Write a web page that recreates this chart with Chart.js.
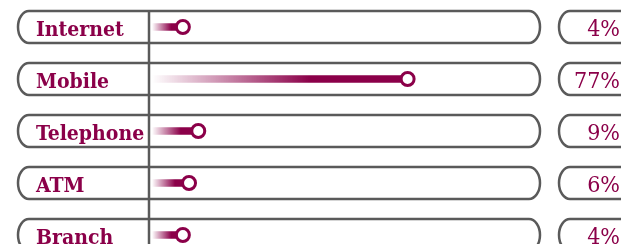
<!DOCTYPE html>
<html>
<head>
<meta charset="utf-8">
<script src="https://cdn.jsdelivr.net/npm/chart.js@4.4.1/dist/chart.umd.min.js"></script>
<style>
  html, body { margin: 0; padding: 0; background: #fff; overflow: hidden; }
  #wrap { width: 621px; height: 244px; overflow: hidden; }
</style>
</head>
<body>
<div id="wrap"><canvas id="channelChart" width="621" height="261"></canvas></div>
<script>
// data
const channels = ["Internet", "Mobile", "Telephone", "ATM", "Branch"];
const shares = [4, 77, 9, 6, 4];
const shareLabels = ["4%", "77%", "9%", "6%", "4%"];

const maroon = "#8b0049";
const grey = "#5a5a5a";
const labelFont = "bold 21px 'DejaVu Serif Condensed', 'DejaVu Serif', serif";
const valueFont = "23px 'DejaVu Serif Condensed', 'DejaVu Serif', serif";

// rounded box with parenthesis-like ends
function pill(ctx, x0, x1, cy, rx, ry) {
    ctx.beginPath();
    ctx.moveTo(x0 + rx, cy - ry);
    ctx.lineTo(x1 - rx, cy - ry);
    ctx.ellipse(x1 - rx, cy, rx, ry, 0, -Math.PI / 2, Math.PI / 2);
    ctx.lineTo(x0 + rx, cy + ry);
    ctx.ellipse(x0 + rx, cy, rx, ry, 0, Math.PI / 2, Math.PI * 1.5);
    ctx.closePath();
    ctx.stroke();
}

const framePlugin = {
    id: "frame",
    beforeDatasetsDraw(chart) {
        const ctx = chart.ctx;
        const y = chart.scales.y;
        const left = chart.chartArea.left;
        ctx.save();
        ctx.strokeStyle = grey;
        ctx.lineWidth = 2.5;
        channels.forEach((c, i) => {
            const cy = y.getPixelForValue(i);
            pill(ctx, 18, 540, cy, 11, 16);
            pill(ctx, 559, 720, cy, 11, 16);
        });
        // divider line
        ctx.beginPath();
        ctx.moveTo(left, y.getPixelForValue(0) - 16);
        ctx.lineTo(left, chart.height);
        ctx.stroke();

        ctx.fillStyle = maroon;
        ctx.textBaseline = "alphabetic";
        channels.forEach((c, i) => {
            const cy = y.getPixelForValue(i);
            ctx.font = labelFont;
            ctx.textAlign = "left";
            ctx.fillText(c, 36, cy + 8.5);
            ctx.font = valueFont;
            ctx.textAlign = "right";
            ctx.fillText(shareLabels[i], 620, cy + 8.5);
        });
        ctx.restore();
    }
};

const barBase = -6;

function fadeFill(context) {
    const chart = context.chart;
    if (!chart.chartArea) return maroon;
    const x = chart.scales.x;
    const v = context.raw;
    const x0 = x.getPixelForValue(barBase);
    const x1 = x.getPixelForValue(v);
    const g = chart.ctx.createLinearGradient(x0, 0, x1, 0);
    g.addColorStop(0, "rgba(139,0,73,0)");
    g.addColorStop(0.62, "rgba(139,0,73,1)");
    g.addColorStop(1, "rgba(139,0,73,1)");
    return g;
}

new Chart(document.getElementById("channelChart"), {
    type: "bar",
    data: {
        labels: channels,
        datasets: [{
            type: "line",
            data: shares,
            indexAxis: "y",
            showLine: false,
            pointRadius: 6.5,
            pointHoverRadius: 6.5,
            pointBorderWidth: 3,
            pointBackgroundColor: "#fff",
            pointBorderColor: maroon,
            order: 0
        }, {
            data: shares,
            base: barBase,
            barThickness: 7,
            backgroundColor: fadeFill,
            borderWidth: 0,
            order: 1
        }]
    },
    options: {
        indexAxis: "y",
        responsive: false,
        animation: false,
        layout: { autoPadding: false, padding: { left: 149, right: 81, top: 1, bottom: 0 } },
        scales: {
            x: { type: "linear", min: -7, max: 120, display: false },
            y: { display: false, offset: true }
        },
        plugins: {
            legend: { display: false },
            tooltip: { enabled: false }
        }
    },
    plugins: [framePlugin]
});
</script>
</body>
</html>
